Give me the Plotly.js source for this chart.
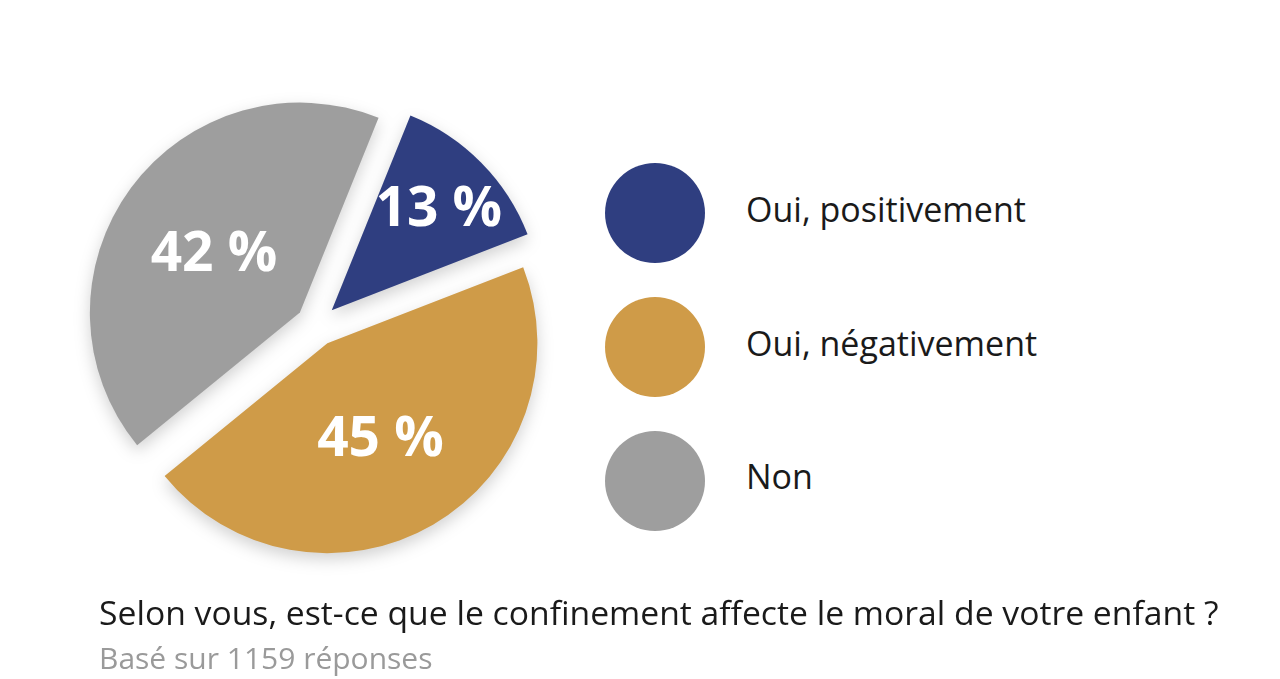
<!DOCTYPE html>
<html>
<head>
<meta charset="utf-8">
<script src="https://cdn.plot.ly/plotly-3.0.1.min.js"></script>
<style>
  html, body { margin: 0; padding: 0; background: #ffffff; }
  #chart { width: 1280px; height: 679px; }
  #chart .pielayer { filter: drop-shadow(0px 6px 8px rgba(0,0,0,0.18)); }
</style>
</head>
<body>
<div id="chart"></div>
<script>
// ---- data ----
const categories = ["Oui, positivement", "Oui, négativement", "Non"];
const percentages = [13, 45, 42];
const colors = ["#2f3e80", "#cf9b48", "#9e9e9e"];
const titleText = "Selon vous, est-ce que le confinement affecte le moral de votre enfant ?";
const subtitleText = "Basé sur 1159 réponses";

const labelsText = percentages.map(v => v + " %");
const legendIndex = categories.map((c, i) => i);

const pieTrace = {
  type: "pie",
  labels: categories,
  values: percentages,
  text: labelsText,
  textinfo: "text",
  textposition: "inside",
  insidetextorientation: "horizontal",
  insidetextfont: { family: "Open Sans", size: 55, color: "#ffffff", weight: 700 },
  marker: { colors: colors, line: { width: 0 } },
  sort: false,
  direction: "clockwise",
  rotation: 22,
  pull: [0.1, 0.1, 0.1],
  domain: { x: [0.0665, 0.4285], y: [0.181, 0.8615] },
  hoverinfo: "label+percent",
  showlegend: false
};

const legendMarkers = {
  type: "scatter",
  mode: "markers",
  x: legendIndex.map(() => 0),
  y: legendIndex,
  xaxis: "x2",
  yaxis: "y2",
  cliponaxis: false,
  marker: { size: 100, color: colors, line: { width: 0 } },
  hoverinfo: "skip",
  showlegend: false
};

const legendTexts = {
  type: "scatter",
  mode: "text",
  x: legendIndex.map(() => 1),
  y: legendIndex,
  xaxis: "x2",
  yaxis: "y2",
  cliponaxis: false,
  text: categories,
  textposition: "middle right",
  textfont: { family: "Open Sans", size: 34, color: "#1a1a1a" },
  hoverinfo: "skip",
  showlegend: false
};

const layout = {
  width: 1280,
  height: 679,
  margin: { l: 0, r: 0, t: 0, b: 0 },
  paper_bgcolor: "#ffffff",
  plot_bgcolor: "rgba(0,0,0,0)",
  showlegend: false,
  uniformtext: { minsize: 55, mode: "show" },
  xaxis2: { domain: [0.5, 1.0], range: [-0.165, 6.868], visible: false, fixedrange: true },
  yaxis2: { domain: [0, 1], range: [3.478, -1.590], visible: false, fixedrange: true, anchor: "x2" },
  annotations: [
    {
      text: titleText, xref: "paper", yref: "paper",
      x: 0.0758, y: (679 - 612) / 679, xanchor: "left", yanchor: "middle",
      showarrow: false,
      font: { family: "Open Sans", size: 33.7, color: "#1a1a1a" }
    },
    {
      text: subtitleText, xref: "paper", yref: "paper",
      x: 0.0758, y: (679 - 657) / 679, xanchor: "left", yanchor: "middle",
      showarrow: false,
      font: { family: "Open Sans", size: 30, color: "#9a9a9a" }
    }
  ]
};

Plotly.newPlot("chart", [pieTrace, legendMarkers, legendTexts], layout, { displayModeBar: false, staticPlot: true });
</script>
</body>
</html>
